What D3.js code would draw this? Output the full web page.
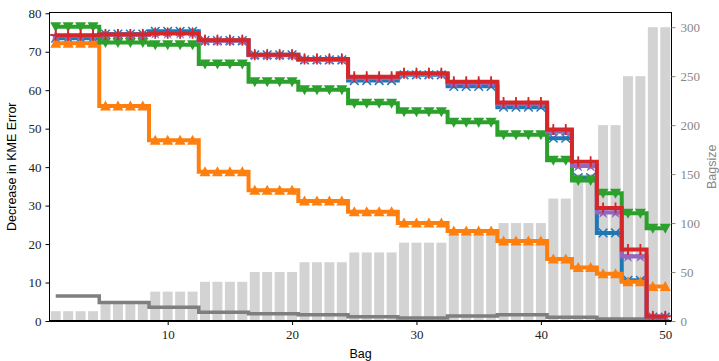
<!DOCTYPE html>
<html><head><meta charset="utf-8">
<script src="https://cdn.jsdelivr.net/npm/d3@7"></script>
<style>body{margin:0;background:#fff}</style>
</head><body>
<svg id="c" width="719" height="361"></svg>
<script>
const bags = d3.range(1, 51);
const bagsize = [10,10,10,10,20,20,20,20,30,30,30,30,40,40,40,40,50,50,50,50,60,60,60,60,70,70,70,70,80,80,80,80,90,90,90,90,100,100,100,100,125,125,150,150,200,200,250,250,300,300];
const blueVals = [73.5,73.5,73.5,73.5,74.6,74.6,74.6,74.6,75.3,75.3,75.3,75.3,72.9,72.9,72.9,72.9,69.2,69.2,69.2,69.2,67.9,67.9,67.9,67.9,62.5,62.5,62.5,62.5,64.0,64.0,64.0,64.0,61.0,61.0,61.0,61.0,55.6,55.6,55.6,55.6,47.5,47.5,37.3,37.3,22.9,22.9,10.6,10.6,1.0,1.0];
const orangeVals = [72.2,72.2,72.2,72.2,55.9,55.9,55.9,55.9,47.0,47.0,47.0,47.0,38.8,38.8,38.8,38.8,34.0,34.0,34.0,34.0,31.2,31.2,31.2,31.2,28.4,28.4,28.4,28.4,25.5,25.5,25.5,25.5,23.4,23.4,23.4,23.4,20.8,20.8,20.8,20.8,16.1,16.1,13.9,13.9,12.3,12.3,10.2,10.2,9.0,9.0];
const greenVals = [76.5,76.5,76.5,76.5,72.4,72.4,72.4,72.4,71.8,71.8,71.8,71.8,66.8,66.8,66.8,66.8,62.2,62.2,62.2,62.2,60.1,60.1,60.1,60.1,56.6,56.6,56.6,56.6,54.4,54.4,54.4,54.4,51.7,51.7,51.7,51.7,48.4,48.4,48.4,48.4,41.8,41.8,36.5,36.5,33.2,33.2,28.0,28.0,24.1,24.1];
const purpleVals = [74.1,74.1,74.1,74.1,74.4,74.4,74.4,74.4,74.8,74.8,74.8,74.8,72.9,72.9,72.9,72.9,69.1,69.1,69.1,69.1,68.0,68.0,68.0,68.0,63.2,63.2,63.2,63.2,64.2,64.2,64.2,64.2,61.9,61.9,61.9,61.9,56.4,56.4,56.4,56.4,49.2,49.2,40.3,40.3,28.2,28.2,16.8,16.8,1.1,1.1];
const redVals = [74.3,74.3,74.3,74.3,74.5,74.5,74.5,74.5,74.8,74.8,74.8,74.8,73.0,73.0,73.0,73.0,69.2,69.2,69.2,69.2,68.1,68.1,68.1,68.1,63.5,63.5,63.5,63.5,64.4,64.4,64.4,64.4,62.2,62.2,62.2,62.2,56.8,56.8,56.8,56.8,49.8,49.8,41.4,41.4,29.4,29.4,18.6,18.6,1.2,1.2];
const grayVals = [6.5,6.5,6.5,6.5,4.8,4.8,4.8,4.8,3.6,3.6,3.6,3.6,2.3,2.3,2.3,2.3,1.9,1.9,1.9,1.9,1.6,1.6,1.6,1.6,1.1,1.1,1.1,1.1,0.8,0.8,0.8,0.8,1.3,1.3,1.3,1.3,1.6,1.6,1.6,1.6,1.0,1.0,1.0,1.0,0.5,0.5,0.5,0.5,0.5,0.5];
const xTicks = [10,20,30,40,50];
const yTicks = [0,10,20,30,40,50,60,70,80];
const y2Ticks = [0,50,100,150,200,250,300];

const L = 49.5, R = 671.5, T = 12.5, B = 321;
const svg = d3.select("#c");
const x = d3.scaleLinear().domain([0.5, 50.5]).range([L, R]);
const y = d3.scaleLinear().domain([0, 80.2]).range([B, T]);
const y2 = d3.scaleLinear().domain([0, 315]).range([B, T]);

// bars
svg.append("g").selectAll("rect").data(bags).join("rect")
  .attr("x", d => x(d - 0.4)).attr("width", x(0.9) - x(0.1))
  .attr("y", (d,i) => y2(bagsize[i])).attr("height", (d,i) => B - y2(bagsize[i]))
  .attr("fill", "#d3d3d3");

const line = vals => d3.line().x((d,i) => x(bags[i])).y(d => y(d)).curve(d3.curveStep)(vals);

const series = [
  {vals: grayVals, color: "#7f7f7f", marker: null, w: 3.5},
  {vals: blueVals, color: "#1f77b4", marker: "x", w: 4},
  {vals: orangeVals, color: "#ff7f0e", marker: "^", w: 4},
  {vals: greenVals, color: "#2ca02c", marker: "v", w: 4},
  {vals: purpleVals, color: "#9467bd", marker: "*", w: 4},
  {vals: redVals, color: "#d62728", marker: "+", w: 4},
];

series.forEach(s => {
  const g = svg.append("g");
  g.append("path").attr("d", line(s.vals)).attr("fill", "none")
    .attr("stroke", s.color).attr("stroke-width", s.w).attr("stroke-linejoin", "miter");
  if (!s.marker) return;
  const mg = g.append("g");
  s.vals.forEach((v, i) => {
    const cx = x(bags[i]), cy = y(v);
    if (s.marker === "^") {
      mg.append("path").attr("d", `M${cx},${cy-5.5} L${cx+5.5},${cy+4.5} L${cx-5.5},${cy+4.5} Z`).attr("fill", s.color);
    } else if (s.marker === "v") {
      mg.append("path").attr("d", `M${cx},${cy+5.5} L${cx+5.5},${cy-4.5} L${cx-5.5},${cy-4.5} Z`).attr("fill", s.color);
    } else if (s.marker === "x") {
      mg.append("path").attr("d", `M${cx-4.3},${cy-4.3} L${cx+4.3},${cy+4.3} M${cx-4.3},${cy+4.3} L${cx+4.3},${cy-4.3}`)
        .attr("stroke", s.color).attr("stroke-width", 1.5);
    } else if (s.marker === "+") {
      mg.append("path").attr("d", `M${cx-5.5},${cy} L${cx+5.5},${cy} M${cx},${cy-5.5} L${cx},${cy+5.5}`)
        .attr("stroke", s.color).attr("stroke-width", 1.8);
    } else if (s.marker === "*") {
      mg.append("path").attr("d", d3.symbol(d3.symbolStar, 50)()).attr("transform", `translate(${cx},${cy})`).attr("fill", s.color);
    }
  });
});

// spines
svg.append("rect").attr("x", L).attr("y", T).attr("width", R - L).attr("height", B - T)
  .attr("fill", "none").attr("stroke", "#000").attr("stroke-width", 1);
svg.append("line").attr("x1", L).attr("x2", R).attr("y1", B).attr("y2", B).attr("stroke", "#000").attr("stroke-width", 1.8);

const serif = "'Liberation Serif', 'DejaVu Serif', serif";
const sans = "'Liberation Sans', 'DejaVu Sans', sans-serif";

// left axis
const ax = svg.append("g").attr("transform", `translate(${L},0)`)
  .call(d3.axisLeft(y).tickValues(yTicks).tickSize(4).tickPadding(4).tickFormat(d3.format("d")));
ax.select(".domain").remove();
ax.selectAll("text").attr("font-family", serif).attr("font-size", 13).attr("fill", "#222");
ax.selectAll("line").attr("stroke", "#000");

// bottom axis
const bx = svg.append("g").attr("transform", `translate(0,${B})`)
  .call(d3.axisBottom(x).tickValues(xTicks).tickSize(4).tickPadding(5).tickFormat(d3.format("d")));
bx.select(".domain").remove();
bx.selectAll("text").attr("font-family", serif).attr("font-size", 13).attr("fill", "#222");

// right axis
const rx = svg.append("g").attr("transform", `translate(${R},0)`)
  .call(d3.axisRight(y2).tickValues(y2Ticks).tickSize(4).tickPadding(5).tickFormat(d3.format("d")));
rx.select(".domain").remove();
rx.selectAll("text").attr("font-family", serif).attr("font-size", 13).attr("fill", "#888");
rx.selectAll("line").attr("stroke", "#888");

// labels
svg.append("text").attr("transform", `translate(16,${(T+B)/2}) rotate(-90)`).attr("text-anchor", "middle")
  .attr("font-family", sans).attr("font-size", 12.5).attr("fill", "#000").text("Decrease in KME Error");
svg.append("text").attr("x", (L+R)/2).attr("y", 358).attr("text-anchor", "middle")
  .attr("font-family", sans).attr("font-size", 12.5).attr("fill", "#000").text("Bag");
svg.append("text").attr("transform", `translate(716,${(T+B)/2}) rotate(-90)`).attr("text-anchor", "middle")
  .attr("font-family", sans).attr("font-size", 12.5).attr("fill", "#888").text("Bagsize");
</script>
</body></html>
